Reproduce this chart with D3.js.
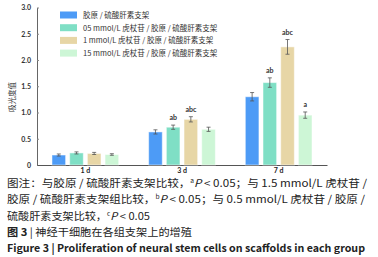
<!DOCTYPE html>
<html lang="zh">
  <head>
    <meta charset="utf-8" />
    <title>figure 3</title>
    <script type="text/javascript" src="https://d3js.org/d3.v7.min.js"></script>
    <style>
      body { margin: 0; background: #fff; }
      svg { display: block; font-family: "Noto Sans CJK SC", "Noto Sans", sans-serif; }
    </style>
  </head>
  <body>
    <div id="graph"></div>
    <script type="text/javascript">
      /***************
       * data
       ***************/
      const days = ["1 d", "3 d", "7 d"];
      const groups = [
        "胶原 / 硫酸肝素支架",
        "05 mmol/L 虎杖苷 / 胶原 / 硫酸肝素支架",
        "1 mmol/L 虎杖苷 / 胶原 / 硫酸肝素支架",
        "15 mmol/L 虎杖苷 / 胶原 / 硫酸肝素支架"
      ];
      // one array per group, one value per day
      const scaffold = [0.19, 0.63, 1.30];
      const low = [0.23, 0.72, 1.57];
      const mid = [0.22, 0.87, 2.25];
      const high = [0.20, 0.68, 0.95];
      const scaffoldErr = [0.02, 0.04, 0.08];
      const lowErr = [0.02, 0.04, 0.09];
      const midErr = [0.02, 0.05, 0.14];
      const highErr = [0.015, 0.04, 0.06];
      const sigMarks = [
        ["", "", "", ""],
        ["", "ab", "abc", ""],
        ["", "ab", "abc", "a"]
      ];
      const yTicks = [0, 0.5, 1.0, 1.5, 2.0, 2.5, 3.0];

      const series = [scaffold, low, mid, high];
      const errors = [scaffoldErr, lowErr, midErr, highErr];
      const colors = ["#4d9bf6", "#7fdfc5", "#e7d6a6", "#cdf6d6"];

      /***************
       * svg
       ***************/
      const width = 378;
      const height = 257;
      const svg = d3.select("#graph").append("svg")
        .attr("width", width)
        .attr("height", height);

      /***************
       * scales
       ***************/
      const x0 = d3.scaleBand().domain(days).range([37, 327])
        .paddingInner(0.31).paddingOuter(0.155);
      const x1 = d3.scaleBand().domain(d3.range(4)).range([0, x0.bandwidth()])
        .paddingInner(0.23).paddingOuter(0);
      const y = d3.scaleLinear().domain([0, 3]).range([165, 7.5]);

      /***************
       * axes
       ***************/
      const yAxis = svg.append("g")
        .attr("transform", "translate(37,0)")
        .call(d3.axisLeft(y).tickValues(yTicks)
          .tickFormat(d => d === 0 ? "0" : d3.format(".1f")(d))
          .tickSizeInner(-2).tickSizeOuter(0).tickPadding(6));
      yAxis.select(".domain").attr("stroke", "#666");
      yAxis.selectAll(".tick line").attr("stroke", "#888");
      yAxis.selectAll("text").attr("font-size", 7).attr("fill", "#333")
        .attr("font-family", "Lato, sans-serif").attr("font-weight", "bold");

      const xAxis = svg.append("g")
        .attr("transform", "translate(0,165)")
        .call(d3.axisBottom(x0).tickSize(0).tickPadding(3));
      xAxis.select(".domain").attr("stroke", "#555");
      xAxis.selectAll("text").attr("font-size", 7).attr("fill", "#222")
        .attr("font-family", "Lato, sans-serif").attr("font-weight", "bold");

      svg.append("text")
        .attr("transform", "translate(15,97) rotate(-90)")
        .attr("text-anchor", "middle")
        .attr("font-size", 7.5)
        .attr("fill", "#333")
        .text("吸光度值");

      /***************
       * bars
       ***************/
      const dayG = svg.selectAll("g.day")
        .data(days)
        .enter().append("g")
        .attr("class", "day")
        .attr("transform", d => "translate(" + x0(d) + ",0)");

      const cells = dayG.selectAll("g.bar")
        .data((d, di) => series.map((s, si) => ({ si: si, v: s[di], e: errors[si][di], m: sigMarks[di][si] })))
        .enter().append("g")
        .attr("class", "bar");

      cells.append("rect")
        .attr("x", d => x1(d.si))
        .attr("y", d => y(d.v))
        .attr("width", x1.bandwidth())
        .attr("height", d => y(0) - y(d.v))
        .attr("fill", d => colors[d.si])
        .attr("stroke", "#ffffff")
        .attr("stroke-opacity", 0.5)
        .attr("stroke-width", 1);

      // error bars
      const cx = d => x1(d.si) + x1.bandwidth() / 2;
      cells.append("line")
        .attr("x1", cx).attr("x2", cx)
        .attr("y1", d => y(d.v - d.e)).attr("y2", d => y(d.v + d.e))
        .attr("stroke", "#555").attr("stroke-width", 0.8);
      cells.append("line")
        .attr("x1", d => cx(d) - 2).attr("x2", d => cx(d) + 2)
        .attr("y1", d => y(d.v + d.e)).attr("y2", d => y(d.v + d.e))
        .attr("stroke", "#555").attr("stroke-width", 0.8);
      cells.append("line")
        .attr("x1", d => cx(d) - 2).attr("x2", d => cx(d) + 2)
        .attr("y1", d => y(d.v - d.e)).attr("y2", d => y(d.v - d.e))
        .attr("stroke", "#555").attr("stroke-width", 0.8);

      // significance letters
      cells.append("text")
        .attr("x", cx)
        .attr("y", d => y(d.v + d.e) - 5)
        .attr("text-anchor", "middle")
        .attr("font-size", 7)
        .attr("font-family", "Lato, sans-serif")
        .attr("font-weight", "bold")
        .attr("fill", "#333")
        .text(d => d.m);

      /***************
       * legend
       ***************/
      const legend = svg.selectAll("g.legend")
        .data(groups)
        .enter().append("g")
        .attr("class", "legend")
        .attr("transform", (d, i) => "translate(60," + (11.5 + i * 12.7) + ")");
      legend.append("rect")
        .attr("width", 17).attr("height", 7)
        .attr("fill", (d, i) => colors[i]);
      legend.append("text")
        .attr("x", 23).attr("y", 6.3)
        .attr("font-size", 7.5)
        .attr("fill", "#333")
        .text(d => d);

      /***************
       * caption
       ***************/
      const cap = svg.append("g").attr("fill", "#222").attr("font-size", 10.5);

      function addLine(yPos, parts, len, weight) {
        const t = cap.append("text").attr("x", 7).attr("y", yPos)
          .attr("textLength", len).attr("lengthAdjust", "spacingAndGlyphs");
        if (weight) t.attr("font-weight", weight);
        parts.forEach(p => {
          const s = t.append("tspan").text(p.t);
          if (p.sup) s.attr("font-size", 6).attr("baseline-shift", "super");
          if (p.i) s.attr("font-style", "italic");
          if (p.b) s.attr("font-weight", "bold");
        });
      }

      addLine(187, [
        { t: "图注：与胶原 / 硫酸肝素支架比较，" }, { t: "a", sup: true },
        { t: "P", i: true }, { t: " < 0.05；与 1.5 mmol/L 虎杖苷 /" }
      ], 360);
      addLine(203, [
        { t: "胶原 / 硫酸肝素支架组比较，" }, { t: "b", sup: true },
        { t: "P", i: true }, { t: " < 0.05；与 0.5 mmol/L 虎杖苷 / 胶原 /" }
      ], 358);
      addLine(219.5, [
        { t: "硫酸肝素支架比较，" }, { t: "c", sup: true },
        { t: "P", i: true }, { t: " < 0.05" }
      ], 143);
      addLine(236, [
        { t: "图 3", b: true }, { t: " | 神经干细胞在各组支架上的增殖" }
      ], 185);
      addLine(252, [
        { t: "Figure 3  |  Proliferation of neural stem cells on scaffolds in each group" }
      ], 358, "bold");
    </script>
  </body>
</html>
